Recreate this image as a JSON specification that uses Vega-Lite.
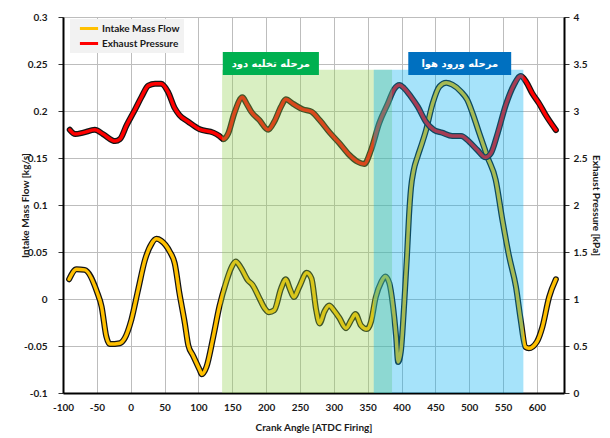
{
  "$schema": "https://vega.github.io/schema/vega-lite/v6.json",
  "width": 501,
  "height": 376,
  "autosize": {"type": "none"},
  "padding": {"left": 63, "top": 17, "right": 46, "bottom": 45},
  "background": "#ffffff",
  "datasets": {
    "intake": [
      {"angle": -91, "flow": 0.021}, {"angle": -80, "flow": 0.0316}, {"angle": -68, "flow": 0.031},
      {"angle": -50, "flow": 0.008}, {"angle": -43, "flow": -0.008}, {"angle": -36, "flow": -0.04},
      {"angle": -31, "flow": -0.048}, {"angle": -16, "flow": -0.047}, {"angle": -9, "flow": -0.042},
      {"angle": 1, "flow": -0.022}, {"angle": 11, "flow": 0.01}, {"angle": 21, "flow": 0.0415},
      {"angle": 31, "flow": 0.059}, {"angle": 38, "flow": 0.064}, {"angle": 45, "flow": 0.062},
      {"angle": 58, "flow": 0.05}, {"angle": 65, "flow": 0.038}, {"angle": 72, "flow": 0.006},
      {"angle": 80, "flow": -0.026}, {"angle": 85, "flow": -0.049}, {"angle": 92, "flow": -0.06},
      {"angle": 102, "flow": -0.0755}, {"angle": 105, "flow": -0.08}, {"angle": 112, "flow": -0.072},
      {"angle": 122, "flow": -0.04}, {"angle": 131, "flow": -0.008}, {"angle": 141, "flow": 0.018},
      {"angle": 149, "flow": 0.034}, {"angle": 155, "flow": 0.04}, {"angle": 163, "flow": 0.033},
      {"angle": 173, "flow": 0.02}, {"angle": 180, "flow": 0.015}, {"angle": 190, "flow": 0.001},
      {"angle": 198, "flow": -0.01}, {"angle": 204, "flow": -0.014}, {"angle": 212, "flow": -0.012},
      {"angle": 222, "flow": 0.011}, {"angle": 229, "flow": 0.021}, {"angle": 235, "flow": 0.011},
      {"angle": 241, "flow": 0.002}, {"angle": 249, "flow": 0.013}, {"angle": 260, "flow": 0.028},
      {"angle": 267, "flow": 0.022}, {"angle": 274, "flow": -0.012}, {"angle": 279, "flow": -0.026},
      {"angle": 286, "flow": -0.0135}, {"angle": 293, "flow": -0.007}, {"angle": 301, "flow": -0.013},
      {"angle": 308, "flow": -0.02}, {"angle": 318, "flow": -0.031}, {"angle": 326, "flow": -0.022},
      {"angle": 332, "flow": -0.016}, {"angle": 340, "flow": -0.028}, {"angle": 349, "flow": -0.032},
      {"angle": 355, "flow": -0.024}, {"angle": 362, "flow": 0.002}, {"angle": 370, "flow": 0.018},
      {"angle": 376, "flow": 0.024}, {"angle": 382, "flow": 0.017}, {"angle": 387, "flow": -0.005},
      {"angle": 392, "flow": -0.04}, {"angle": 395, "flow": -0.067}, {"angle": 399, "flow": -0.056},
      {"angle": 404, "flow": -0.005}, {"angle": 408, "flow": 0.045}, {"angle": 411, "flow": 0.088},
      {"angle": 414, "flow": 0.118}, {"angle": 418, "flow": 0.137}, {"angle": 424, "flow": 0.152},
      {"angle": 430, "flow": 0.165}, {"angle": 436, "flow": 0.179}, {"angle": 446, "flow": 0.208},
      {"angle": 456, "flow": 0.226}, {"angle": 466, "flow": 0.23},
      {"angle": 475, "flow": 0.228}, {"angle": 488, "flow": 0.2205}, {"angle": 497, "flow": 0.212},
      {"angle": 505, "flow": 0.1975}, {"angle": 515, "flow": 0.176}, {"angle": 527, "flow": 0.151},
      {"angle": 539, "flow": 0.127}, {"angle": 549, "flow": 0.084}, {"angle": 559, "flow": 0.045},
      {"angle": 569, "flow": 0.013}, {"angle": 576, "flow": -0.022}, {"angle": 583, "flow": -0.051},
      {"angle": 588, "flow": -0.0525}, {"angle": 600, "flow": -0.0455}, {"angle": 608, "flow": -0.03},
      {"angle": 618, "flow": 0.002}, {"angle": 628, "flow": 0.021}
    ],
    "exhaust": [
      {"angle": -90, "pressure": 2.8}, {"angle": -82, "pressure": 2.755}, {"angle": -70, "pressure": 2.77},
      {"angle": -53, "pressure": 2.8}, {"angle": -41, "pressure": 2.755}, {"angle": -23, "pressure": 2.68},
      {"angle": -16, "pressure": 2.7}, {"angle": -6, "pressure": 2.85}, {"angle": 6, "pressure": 3.01},
      {"angle": 16, "pressure": 3.15}, {"angle": 26, "pressure": 3.27}, {"angle": 36, "pressure": 3.29},
      {"angle": 45, "pressure": 3.29}, {"angle": 55, "pressure": 3.205}, {"angle": 65, "pressure": 3.03},
      {"angle": 72, "pressure": 2.957}, {"angle": 85, "pressure": 2.886}, {"angle": 102, "pressure": 2.805},
      {"angle": 122, "pressure": 2.77}, {"angle": 131, "pressure": 2.734}, {"angle": 137, "pressure": 2.7},
      {"angle": 144, "pressure": 2.76}, {"angle": 153, "pressure": 2.975}, {"angle": 165, "pressure": 3.146},
      {"angle": 171, "pressure": 3.08}, {"angle": 178, "pressure": 2.993}, {"angle": 190, "pressure": 2.904},
      {"angle": 203, "pressure": 2.8}, {"angle": 212, "pressure": 2.886}, {"angle": 222, "pressure": 3.046},
      {"angle": 229, "pressure": 3.124}, {"angle": 240, "pressure": 3.075}, {"angle": 254, "pressure": 3.018},
      {"angle": 267, "pressure": 2.993}, {"angle": 279, "pressure": 2.904}, {"angle": 294, "pressure": 2.77},
      {"angle": 308, "pressure": 2.66}, {"angle": 323, "pressure": 2.532}, {"angle": 335, "pressure": 2.461},
      {"angle": 345, "pressure": 2.436}, {"angle": 355, "pressure": 2.585}, {"angle": 367, "pressure": 2.869},
      {"angle": 380, "pressure": 3.082}, {"angle": 389, "pressure": 3.231}, {"angle": 397, "pressure": 3.277},
      {"angle": 404, "pressure": 3.241}, {"angle": 414, "pressure": 3.152}, {"angle": 424, "pressure": 3.046},
      {"angle": 436, "pressure": 2.886}, {"angle": 448, "pressure": 2.798}, {"angle": 460, "pressure": 2.769},
      {"angle": 475, "pressure": 2.734}, {"angle": 488, "pressure": 2.734}, {"angle": 500, "pressure": 2.673},
      {"angle": 512, "pressure": 2.585}, {"angle": 524, "pressure": 2.507}, {"angle": 532, "pressure": 2.55},
      {"angle": 542, "pressure": 2.763}, {"angle": 554, "pressure": 3.064}, {"angle": 566, "pressure": 3.277},
      {"angle": 576, "pressure": 3.372}, {"angle": 584, "pressure": 3.312}, {"angle": 593, "pressure": 3.189},
      {"angle": 603, "pressure": 3.082}, {"angle": 613, "pressure": 2.957}, {"angle": 628, "pressure": 2.798}
    ],
    "phases": [
      {"phase": "scavenging", "start": 135, "end": 386, "top": 0.244},
      {"phase": "intake", "start": 359, "end": 580, "top": 0.244}
    ],
    "phaseLabels": [
      {"phase": "scavenging", "text": "مرحله تخلیه دود", "start": 136, "end": 278, "center": 207, "low": 0.2383, "high": 0.2628, "mid": 0.2505},
      {"phase": "intake", "text": "مرحله ورود هوا", "start": 410, "end": 562, "center": 486, "low": 0.2383, "high": 0.2628, "mid": 0.2505}
    ]
  },
  "config": {
    "font": "Lato",
    "view": {"stroke": "#333333", "strokeWidth": 1},
    "axis": {
      "labelFont": "Lato", "labelFontWeight": "bold", "labelFontSize": 10, "labelColor": "#1a1a1a",
      "titleFont": "Lato", "titleFontWeight": "bold", "titleFontSize": 10, "titleColor": "#1a1a1a",
      "domainColor": "#000000", "domainWidth": 2, "tickColor": "#333333", "tickWidth": 1,
      "gridColor": "#bdbdbd", "gridWidth": 1, "labelOverlap": false
    },
    "axisX": {
      "values": [-100, -50, 0, 50, 100, 150, 200, 250, 300, 350, 400, 450, 500, 550, 600],
      "labelExpr": "'' + datum.value", "grid": true, "ticks": false, "labelPadding": 9,
      "labelFlush": false, "labelOverlap": false, "titleY": 34, "titleBaseline": "middle"
    }
  },
  "resolve": {"scale": {"y": "independent", "fill": "independent"}},
  "layer": [
    {
      "data": {"name": "intake"},
      "mark": {"type": "line", "interpolate": "monotone", "stroke": "#141414", "strokeWidth": 6, "strokeJoin": "round", "strokeCap": "round"},
      "encoding": {
        "x": {
          "field": "angle", "type": "quantitative", "title": "Crank Angle [ATDC Firing]",
          "scale": {"domain": [-100, 640], "nice": false, "zero": false},
          "axis": {
            "orient": "bottom", "values": [-100, -50, 0, 50, 100, 150, 200, 250, 300, 350, 400, 450, 500, 550, 600],
            "labelExpr": "'' + datum.value", "grid": true, "ticks": false, "labelPadding": 9,
            "labelFlush": false, "labelOverlap": false, "titleY": 34, "titleBaseline": "middle"
          }
        },
        "y": {
          "field": "flow", "type": "quantitative", "title": "Intake Mass Flow [kg/s]",
          "scale": {"domain": [-0.1, 0.3], "nice": false, "zero": false},
          "axis": {
            "orient": "left", "values": [-0.1, -0.05, 0, 0.05, 0.1, 0.15, 0.2, 0.25, 0.3],
            "labelExpr": "'' + datum.value", "grid": true, "tickSize": 5, "labelPadding": 11,
            "labelFlush": false, "labelOverlap": false, "titleX": -38, "titleBaseline": "middle"
          }
        }
      }
    },
    {
      "data": {"name": "intake"},
      "mark": {"type": "line", "interpolate": "monotone", "strokeWidth": 3.5, "strokeJoin": "round", "strokeCap": "round"},
      "encoding": {
        "x": {
          "field": "angle", "type": "quantitative", "title": "Crank Angle [ATDC Firing]",
          "axis": {
            "orient": "bottom", "values": [-100, -50, 0, 50, 100, 150, 200, 250, 300, 350, 400, 450, 500, 550, 600],
            "labelExpr": "'' + datum.value", "grid": true, "ticks": false, "labelPadding": 9,
            "labelFlush": false, "labelOverlap": false, "titleY": 34, "titleBaseline": "middle"
          }
        },
        "y": {"field": "flow", "type": "quantitative", "scale": {"domain": [-0.1, 0.3], "nice": false, "zero": false}, "axis": null},
        "color": {
          "datum": "Intake Mass Flow", "type": "nominal",
          "scale": {"domain": ["Intake Mass Flow", "Exhaust Pressure"], "range": ["#FFC000", "#FF0000"]},
          "legend": {
            "orient": "none", "legendX": 7, "legendY": 2, "title": null, "fillColor": "#f2f2f2",
            "padding": 4, "symbolType": "stroke", "symbolStrokeWidth": 3, "symbolSize": 330,
            "symbolOffset": 4, "clipHeight": 11,
            "labelFont": "Lato", "labelFontWeight": "bold", "labelFontSize": 10, "labelColor": "#1a1a1a",
            "rowPadding": 4, "labelOffset": 2
          }
        }
      }
    },
    {
      "data": {"name": "exhaust"},
      "mark": {"type": "line", "interpolate": "monotone", "stroke": "#141414", "strokeWidth": 6, "strokeJoin": "round", "strokeCap": "round"},
      "encoding": {
        "x": {
          "field": "angle", "type": "quantitative", "title": "Crank Angle [ATDC Firing]",
          "axis": {
            "orient": "bottom", "values": [-100, -50, 0, 50, 100, 150, 200, 250, 300, 350, 400, 450, 500, 550, 600],
            "labelExpr": "'' + datum.value", "grid": true, "ticks": false, "labelPadding": 9,
            "labelFlush": false, "labelOverlap": false, "titleY": 34, "titleBaseline": "middle"
          }
        },
        "y": {
          "field": "pressure", "type": "quantitative", "title": "Exhaust Pressure [kPa]",
          "scale": {"domain": [0, 4], "nice": false, "zero": false},
          "axis": {
            "orient": "right", "values": [0, 0.5, 1, 1.5, 2, 2.5, 3, 3.5, 4],
            "labelExpr": "'' + datum.value", "grid": false, "tickSize": 5, "labelPadding": 4,
            "labelFlush": false, "labelOverlap": false, "titleX": 31, "titleBaseline": "middle"
          }
        }
      }
    },
    {
      "data": {"name": "exhaust"},
      "mark": {"type": "line", "interpolate": "monotone", "strokeWidth": 3.5, "strokeJoin": "round", "strokeCap": "round"},
      "encoding": {
        "x": {
          "field": "angle", "type": "quantitative", "title": "Crank Angle [ATDC Firing]",
          "axis": {
            "orient": "bottom", "values": [-100, -50, 0, 50, 100, 150, 200, 250, 300, 350, 400, 450, 500, 550, 600],
            "labelExpr": "'' + datum.value", "grid": true, "ticks": false, "labelPadding": 9,
            "labelFlush": false, "labelOverlap": false, "titleY": 34, "titleBaseline": "middle"
          }
        },
        "y": {"field": "pressure", "type": "quantitative", "scale": {"domain": [0, 4], "nice": false, "zero": false}, "axis": null},
        "color": {"datum": "Exhaust Pressure", "type": "nominal"}
      }
    },
    {
      "data": {"name": "phases"},
      "mark": {"type": "rect", "fillOpacity": 0.35},
      "encoding": {
        "x": {
          "field": "start", "type": "quantitative", "title": "Crank Angle [ATDC Firing]",
          "axis": {
            "orient": "bottom", "values": [-100, -50, 0, 50, 100, 150, 200, 250, 300, 350, 400, 450, 500, 550, 600],
            "labelExpr": "'' + datum.value", "grid": true, "ticks": false, "labelPadding": 9,
            "labelFlush": false, "labelOverlap": false, "titleY": 34, "titleBaseline": "middle"
          }
        },
        "x2": {"field": "end"},
        "y": {"field": "top", "type": "quantitative", "scale": {"domain": [-0.1, 0.3], "nice": false, "zero": false}, "axis": null},
        "y2": {"datum": -0.1},
        "fill": {"field": "phase", "type": "nominal", "scale": {"domain": ["scavenging", "intake"], "range": ["#92D050", "#00B0F0"]}, "legend": null}
      }
    },
    {
      "data": {"name": "phaseLabels"},
      "mark": {"type": "rect"},
      "encoding": {
        "x": {
          "field": "start", "type": "quantitative", "title": "Crank Angle [ATDC Firing]",
          "axis": {
            "orient": "bottom", "values": [-100, -50, 0, 50, 100, 150, 200, 250, 300, 350, 400, 450, 500, 550, 600],
            "labelExpr": "'' + datum.value", "grid": true, "ticks": false, "labelPadding": 9,
            "labelFlush": false, "labelOverlap": false, "titleY": 34, "titleBaseline": "middle"
          }
        },
        "x2": {"field": "end"},
        "y": {"field": "high", "type": "quantitative", "scale": {"domain": [-0.1, 0.3], "nice": false, "zero": false}, "axis": null},
        "y2": {"field": "low"},
        "fill": {"field": "phase", "type": "nominal", "scale": {"domain": ["scavenging", "intake"], "range": ["#00B050", "#0070C0"]}, "legend": null}
      }
    },
    {
      "data": {"name": "phaseLabels"},
      "mark": {"type": "text", "font": "DejaVu Sans", "fontWeight": "bold", "fontSize": 10, "color": "#ffffff", "align": "center", "baseline": "middle"},
      "encoding": {
        "x": {
          "field": "center", "type": "quantitative", "title": "Crank Angle [ATDC Firing]",
          "axis": {
            "orient": "bottom", "values": [-100, -50, 0, 50, 100, 150, 200, 250, 300, 350, 400, 450, 500, 550, 600],
            "labelExpr": "'' + datum.value", "grid": true, "ticks": false, "labelPadding": 9,
            "labelFlush": false, "labelOverlap": false, "titleY": 34, "titleBaseline": "middle"
          }
        },
        "y": {"field": "mid", "type": "quantitative", "scale": {"domain": [-0.1, 0.3], "nice": false, "zero": false}, "axis": null},
        "text": {"field": "text"}
      }
    }
  ]
}
